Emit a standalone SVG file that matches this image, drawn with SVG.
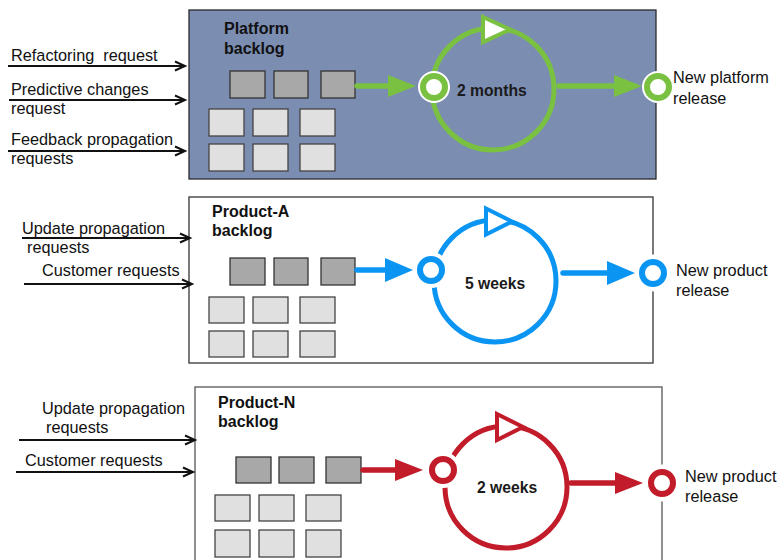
<svg xmlns="http://www.w3.org/2000/svg" width="779" height="560" viewBox="0 0 779 560">
  <style>
    text { font-family: "Liberation Sans", Arial, sans-serif; fill: #111; }
    .lbl { font-size: 16.3px; }
    .title { font-size: 16px; font-weight: bold; }
    .cyc { font-size: 15.7px; font-weight: bold; fill: #1a1a1a; }
    .dark { fill: #a8a8a8; stroke: #333; stroke-width: 1.3; }
    .light { fill: #e0e0e0; stroke: #444; stroke-width: 1.3; }
    .in { stroke: #111; stroke-width: 2; fill: none; marker-end: url(#chev); }
    .halo { fill: #fff; }
    .g { stroke: #7ac142; }
    .b { stroke: #0a95f2; }
    .r { stroke: #c21b2a; }
    .loop { fill: none; stroke-width: 5; }
    .ring { fill: #fff; stroke-width: 6; }
    .tri { fill: #fff; stroke-width: 4; stroke-linejoin: miter; }
    .shaft { stroke-width: 5.5; stroke-linecap: round; fill: none; }
  </style>
  <defs>
    <marker id="chev" markerUnits="userSpaceOnUse" markerWidth="12" markerHeight="12" refX="10" refY="5" orient="auto" overflow="visible">
      <path d="M0,0.5 L10,5 L0,9.5" fill="none" stroke="#111" stroke-width="2"/>
    </marker>
    <marker id="headG" markerUnits="userSpaceOnUse" markerWidth="30" markerHeight="22" refX="4" refY="11" orient="auto" overflow="visible">
      <path d="M0,0 L28,11 L0,22 z" fill="#7ac142"/>
    </marker>
    <marker id="headB" markerUnits="userSpaceOnUse" markerWidth="30" markerHeight="24" refX="4" refY="12" orient="auto" overflow="visible">
      <path d="M0,0 L28,12 L0,24 z" fill="#0a95f2"/>
    </marker>
    <marker id="headR" markerUnits="userSpaceOnUse" markerWidth="30" markerHeight="22" refX="4" refY="11" orient="auto" overflow="visible">
      <path d="M0,0 L28,11 L0,22 z" fill="#c21b2a"/>
    </marker>
  </defs>

  <!-- Platform backlog -->
  <g id="platform">
    <rect x="189" y="10" width="467" height="169" fill="#7b8db1" stroke="#2a2a2a" stroke-width="1.3"/>
    <text class="title" x="224" y="34">Platform</text>
    <text class="title" x="224" y="53.5">backlog</text>
    <rect class="dark" x="230" y="71" width="35" height="27"/>
    <rect class="dark" x="274" y="71" width="34" height="27"/>
    <rect class="dark" x="321" y="71" width="34" height="27"/>
    <rect class="light" x="209" y="109" width="35" height="27"/>
    <rect class="light" x="253" y="109" width="35" height="27"/>
    <rect class="light" x="300" y="109" width="35" height="27"/>
    <rect class="light" x="209" y="144" width="35" height="27"/>
    <rect class="light" x="253" y="144" width="35" height="27"/>
    <rect class="light" x="300" y="144" width="35" height="27"/>
    <circle class="loop g" cx="493" cy="89" r="61"/>
    <path class="tri g" d="M483,17 L510,29.5 L483,42 z"/>
    <text class="cyc" x="457" y="96">2 months</text>
  </g>
  <g id="platform-start">
    <circle class="halo" cx="434" cy="87" r="16"/>
    <circle class="ring g" cx="434" cy="87" r="11"/>
  </g>
  <g id="platform-release">
    <circle class="halo" cx="658" cy="87" r="16"/>
    <circle class="ring g" cx="658" cy="87" r="11"/>
    <text class="lbl" x="673" y="83">New platform</text>
    <text class="lbl" x="673" y="104">release</text>
  </g>

  <!-- Product-A backlog -->
  <g id="product-a">
    <rect x="189" y="197" width="464" height="166" fill="#fff" stroke="#333" stroke-width="1.3"/>
    <text class="title" x="212" y="217">Product-A</text>
    <text class="title" x="212" y="236">backlog</text>
    <rect class="dark" x="230" y="258" width="35" height="27"/>
    <rect class="dark" x="274" y="258" width="34" height="27"/>
    <rect class="dark" x="321" y="258" width="34" height="27"/>
    <rect class="light" x="209" y="297" width="35" height="26"/>
    <rect class="light" x="253" y="297" width="35" height="26"/>
    <rect class="light" x="300" y="297" width="35" height="26"/>
    <rect class="light" x="209" y="331" width="35" height="26"/>
    <rect class="light" x="253" y="331" width="35" height="26"/>
    <rect class="light" x="300" y="331" width="35" height="26"/>
    <circle class="loop b" cx="495" cy="281" r="61"/>
    <path class="tri b" d="M486,208.5 L512,221.5 L486,234.5 z"/>
    <text class="cyc" x="465" y="289">5 weeks</text>
  </g>
  <g id="product-a-start">
    <circle class="halo" cx="431" cy="270" r="18"/>
    <circle class="ring b" cx="431" cy="270" r="11"/>
  </g>
  <g id="product-a-release">
    <circle class="halo" cx="653" cy="273" r="18.5"/>
    <circle class="ring b" cx="653" cy="273" r="11"/>
    <text class="lbl" x="676" y="276">New product</text>
    <text class="lbl" x="676" y="296">release</text>
  </g>

  <!-- Product-N backlog -->
  <g id="product-n">
    <rect x="195" y="387" width="467" height="220" fill="#fff" stroke="#555" stroke-width="1.3"/>
    <text class="title" x="218" y="408">Product-N</text>
    <text class="title" x="218" y="427">backlog</text>
    <rect class="dark" x="236" y="457" width="35" height="26"/>
    <rect class="dark" x="279" y="457" width="35" height="26"/>
    <rect class="dark" x="326" y="457" width="35" height="26"/>
    <rect class="light" x="215" y="495" width="35" height="26"/>
    <rect class="light" x="259" y="495" width="35" height="26"/>
    <rect class="light" x="306" y="495" width="35" height="26"/>
    <rect class="light" x="215" y="530" width="35" height="27"/>
    <rect class="light" x="259" y="530" width="35" height="27"/>
    <rect class="light" x="306" y="530" width="35" height="27"/>
    <circle class="loop r" cx="506" cy="487" r="61"/>
    <path class="tri r" d="M497,414 L523,427 L497,440 z"/>
    <text class="cyc" x="477" y="493">2 weeks</text>
  </g>
  <g id="product-n-start">
    <circle class="halo" cx="443" cy="470" r="18"/>
    <circle class="ring r" cx="443" cy="470" r="11"/>
  </g>
  <g id="product-n-release">
    <circle class="halo" cx="662" cy="483" r="18.5"/>
    <circle class="ring r" cx="662" cy="483" r="11"/>
    <text class="lbl" x="685" y="482">New product</text>
    <text class="lbl" x="685" y="502">release</text>
  </g>

  <!-- request inputs -->
  <g id="inputs">
    <text class="lbl" x="11" y="61" xml:space="preserve">Refactoring  request</text>
    <text class="lbl" x="11" y="95">Predictive changes</text>
    <text class="lbl" x="11" y="114">request</text>
    <text class="lbl" x="11" y="145">Feedback propagation</text>
    <text class="lbl" x="11" y="164">requests</text>
    <text class="lbl" x="22" y="234">Update propagation</text>
    <text class="lbl" x="27" y="253">requests</text>
    <text class="lbl" x="42" y="276">Customer requests</text>
    <text class="lbl" x="42" y="414">Update propagation</text>
    <text class="lbl" x="46" y="433">requests</text>
    <text class="lbl" x="25" y="466">Customer requests</text>
  </g>

  <g id="connectors">
    <line class="in" x1="8" y1="66" x2="185" y2="66"/>
    <line class="in" x1="9" y1="100" x2="185" y2="100"/>
    <line class="in" x1="8" y1="151" x2="185" y2="151"/>
    <line class="in" x1="22" y1="238" x2="190" y2="238"/>
    <line class="in" x1="24" y1="284" x2="192" y2="284"/>
    <line class="in" x1="19" y1="440" x2="195" y2="440"/>
    <line class="in" x1="16" y1="472" x2="193" y2="472"/>

    <line class="shaft g" x1="357" y1="86" x2="392" y2="86" marker-end="url(#headG)"/>
    <line class="shaft g" x1="559" y1="86" x2="618" y2="86" marker-end="url(#headG)"/>
    <line class="shaft b" x1="357" y1="270" x2="389" y2="270" marker-end="url(#headB)"/>
    <line class="shaft b" x1="563" y1="273" x2="611" y2="273" marker-end="url(#headB)"/>
    <line class="shaft r" x1="363" y1="470" x2="399" y2="470" marker-end="url(#headR)"/>
    <line class="shaft r" x1="571" y1="483" x2="619" y2="483" marker-end="url(#headR)"/>
  </g>
</svg>
